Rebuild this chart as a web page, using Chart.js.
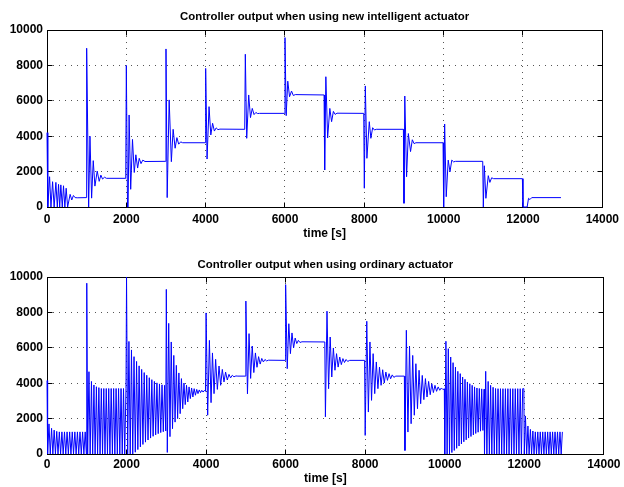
<!DOCTYPE html>
<html>
<head>
<meta charset="utf-8">
<script src="https://cdn.jsdelivr.net/npm/chart.js@4.4.0/dist/chart.umd.min.js"></script>
<style>
html,body{margin:0;padding:0;background:#fff;}
#wrap{position:relative;width:624px;height:487px;overflow:hidden;}
.box{position:absolute;left:0;width:624px;}
canvas{display:block;}
</style>
</head>
<body>
<div id="wrap">
  <div class="box" style="top:0;height:243px"><canvas id="c1" width="624" height="243"></canvas></div>
  <div class="box" style="top:243px;height:244px"><canvas id="c2" width="624" height="244"></canvas></div>
</div>
<script>
// ---------- tick labels ----------
const xTicks = [0, 2000, 4000, 6000, 8000, 10000, 12000, 14000];
const xTickLabels = ['0', '2000', '4000', '6000', '8000', '10000', '12000', '14000'];
const yTicks = [0, 2000, 4000, 6000, 8000, 10000];
const yTickLabels = ['0', '2000', '4000', '6000', '8000', '10000'];
const xLabel = 'time [s]';
const titleTop = 'Controller output when using new intelligent actuator';
const titleBottom = 'Controller output when using ordinary actuator';

// ---------- series: new intelligent actuator ----------
const topTime = [
  0, 20, 65, 100, 141, 180, 224, 260, 291, 320, 349, 385, 416, 450, 483, 520, 583, 624, 666, 708, 760, 985,
  1000, 1050, 1083, 1125, 1166, 1208, 1266, 1316, 1358, 1400, 1450, 1500, 1985,
  2000, 2030, 2045, 2070, 2110, 2155, 2200, 2240, 2285, 2325, 2370, 2415, 2470, 2985,
  3000, 3030, 3080, 3135, 3180, 3230, 3275, 3320, 3370, 3420, 3985,
  4000, 4035, 4085, 4130, 4175, 4220, 4265, 4310, 4360, 4985,
  5000, 5035, 5085, 5130, 5175, 5220, 5265, 5310, 5360, 5985,
  6000, 6030, 6070, 6115, 6165, 6210, 6260, 6985,
  7000, 7030, 7075, 7130, 7175, 7220, 7265, 7310, 7985,
  8000, 8025, 8065, 8125, 8165, 8210, 8255, 8300, 8985,
  9000, 9020, 9065, 9110, 9165, 9210, 9255, 9300, 9985,
  10000, 10025, 10065, 10115, 10160, 10205, 10250, 10300, 10985,
  11000, 11025, 11065, 11125, 11165, 11210, 11260, 11985,
  12000, 12105, 12140, 12175, 12220, 12958
];
const topValue = [
  4200, 0, 1710, 0, 1430, 0, 1390, 0, 1280, 0, 1250, 0, 1200, 0, 1060, 0, 715, 395, 650, 530, 520, 530,
  8970, 0, 4000, 500, 2620, 1180, 2030, 1450, 1800, 1580, 1680, 1620, 1620,
  8000, 0, 0, 5200, 1000, 3820, 1950, 2950, 2200, 2750, 2450, 2650, 2570, 2580,
  8930, 530, 6050, 2560, 4390, 3320, 3920, 3550, 3680, 3630, 3630,
  7830, 2710, 5670, 4070, 4730, 4290, 4470, 4370, 4400, 4390,
  8630, 3880, 6330, 5050, 5570, 5220, 5340, 5280, 5290, 5290,
  9570, 5160, 7110, 6230, 6550, 6300, 6350, 6330,
  2090, 7360, 3900, 5570, 4820, 5400, 5230, 5300, 5290,
  1060, 6840, 2750, 4820, 3880, 4480, 4350, 4390, 4390,
  210, 6270, 1710, 4150, 3130, 3800, 3580, 3630, 3630,
  0, 4690, 580, 2650, 1990, 2650, 2550, 2580, 2580,
  0, 2330, 490, 1770, 1390, 1650, 1600, 1600,
  0, 0, 490, 420, 530, 530
];

// ---------- series: ordinary actuator ----------
const bottomTime = [
  0, 15, 50, 82, 115, 147, 180, 212, 245, 277, 310, 342, 375, 407, 440, 472, 505, 537, 570, 602, 635, 667, 700, 732, 765, 797, 830, 862, 895, 927, 960, 990,
  1000, 1022, 1055, 1085, 1118, 1148, 1180, 1210, 1242, 1272, 1304, 1334, 1366, 1396, 1428, 1458, 1490, 1520, 1552, 1582, 1614, 1644, 1676, 1706, 1738, 1768, 1800, 1830, 1862, 1892, 1924, 1954, 1986,
  2000, 2028, 2060, 2092, 2124, 2156, 2188, 2220, 2252, 2284, 2316, 2348, 2380, 2412, 2444, 2476, 2508, 2540, 2572, 2604, 2636, 2668, 2700, 2732, 2764, 2796, 2828, 2860, 2892, 2924, 2956, 2985,
  3000, 3025, 3060, 3092, 3124, 3156, 3188, 3220, 3252, 3284, 3316, 3348, 3380, 3412, 3444, 3476, 3508, 3540, 3572, 3604, 3636, 3668, 3700, 3732, 3764, 3796, 3828, 3860, 3892, 3924, 3956, 3985,
  4000, 4040, 4083, 4125, 4160, 4200, 4240, 4283, 4325, 4366, 4408, 4450, 4490, 4533, 4575, 4616, 4660, 4700, 4750, 4800, 4985,
  5000, 5040, 5080, 5120, 5160, 5200, 5240, 5280, 5320, 5360, 5400, 5440, 5480, 5520, 5570, 5985,
  6000, 6040, 6080, 6120, 6160, 6200, 6240, 6280, 6320, 6360, 6410, 6985,
  7000, 7040, 7080, 7120, 7160, 7200, 7240, 7280, 7320, 7360, 7400, 7440, 7480, 7520, 7560, 7610, 7985,
  8000, 8040, 8080, 8120, 8160, 8200, 8240, 8280, 8320, 8360, 8400, 8440, 8480, 8520, 8560, 8600, 8640, 8680, 8720, 8770, 8985,
  9000, 9035, 9075, 9115, 9155, 9195, 9235, 9275, 9315, 9355, 9395, 9435, 9475, 9515, 9555, 9595, 9635, 9675, 9715, 9755, 9795, 9835, 9875, 9915, 9955, 9990,
  10000, 10030, 10060, 10090, 10120, 10150, 10180, 10210, 10240, 10270, 10300, 10330, 10360, 10390, 10420, 10450, 10480, 10510, 10540, 10570, 10600, 10630, 10660, 10690, 10720, 10750, 10780, 10810, 10840, 10870, 10900, 10930, 10960, 10990,
  11000, 11030, 11060, 11092, 11122, 11154, 11184, 11216, 11246, 11278, 11308, 11340, 11370, 11402, 11432, 11464, 11494, 11526, 11556, 11588, 11618, 11650, 11680, 11712, 11742, 11774, 11804, 11836, 11866, 11898, 11928, 11960, 11990,
  12000, 12030, 12060, 12092, 12122, 12154, 12184, 12216, 12246, 12278, 12308, 12340, 12370, 12402, 12432, 12464, 12494, 12526, 12556, 12588, 12618, 12650, 12680, 12712, 12742, 12774, 12804, 12836, 12866, 12898, 12928, 12958
];
const bottomValue = [
  4150, 0, 1700, 0, 1450, 0, 1350, 0, 1280, 0, 1250, 0, 1250, 0, 1250, 0, 1250, 0, 1250, 0, 1250, 0, 1250, 0, 1250, 0, 1250, 0, 1250, 0, 1250, 0,
  9650, 0, 4650, 0, 4100, 0, 3900, 0, 3800, 0, 3750, 0, 3700, 0, 3700, 0, 3700, 0, 3700, 0, 3700, 0, 3700, 0, 3700, 0, 3700, 0, 3700, 0, 3700, 0, 3700,
  10000, 0, 6360, 0, 5880, 0, 5500, 100, 5230, 250, 4980, 400, 4780, 540, 4600, 670, 4450, 790, 4310, 900, 4200, 1000, 4100, 1080, 4020, 1150, 3960, 1210, 3910, 1260, 3880, 1300,
  9300, 90, 7380, 980, 6330, 1430, 5570, 1800, 5010, 2000, 4580, 2280, 4260, 2560, 4010, 2790, 3880, 2940, 3790, 3130, 3730, 3220, 3690, 3320, 3650, 3410, 3620, 3470, 3600, 3500, 3590, 3540,
  7970, 2190, 6420, 2900, 5710, 3410, 5350, 3650, 4970, 3880, 4780, 4070, 4630, 4180, 4500, 4300, 4450, 4360, 4410, 4400, 4400,
  8640, 3400, 6800, 4270, 6100, 4600, 5710, 4900, 5500, 5080, 5400, 5200, 5340, 5260, 5300, 5290,
  9570, 4820, 7360, 5670, 6840, 5990, 6550, 6240, 6420, 6300, 6340, 6330,
  2100, 8070, 3690, 6610, 4350, 5990, 4730, 5670, 4910, 5480, 5050, 5390, 5170, 5340, 5230, 5290, 5290,
  1050, 7500, 2370, 6330, 3030, 5670, 3410, 5200, 3690, 4910, 3880, 4760, 4010, 4630, 4160, 4540, 4250, 4470, 4330, 4400, 4400,
  200, 6990, 1240, 6100, 1710, 5570, 2190, 5100, 2560, 4730, 2840, 4440, 3070, 4260, 3220, 4100, 3350, 3970, 3470, 3880, 3540, 3790, 3600, 3730, 3640, 3680,
  0, 6370, 0, 5950, 0, 5480, 80, 5160, 200, 4910, 320, 4670, 450, 4540, 570, 4350, 690, 4220, 800, 4070, 900, 3970, 990, 3880, 1080, 3790, 1160, 3730, 1230, 3700, 1290, 3680, 1330, 3660,
  0, 4670, 0, 4100, 0, 3880, 0, 3770, 0, 3700, 0, 3690, 0, 3690, 0, 3690, 0, 3690, 0, 3690, 0, 3690, 0, 3690, 0, 3690, 0, 3690, 0, 3690, 0, 3690, 3690,
  0, 2150, 0, 1580, 0, 1390, 0, 1300, 0, 1250, 0, 1250, 0, 1250, 0, 1250, 0, 1250, 0, 1250, 0, 1250, 0, 1250, 0, 1250, 0, 1250, 0, 1250, 0, 1250
];

// ---------- drawing ----------
const FONT = '"Liberation Sans", Arial, Helvetica, sans-serif';

function alignPx(p) { return Math.round(p - 0.5) + 0.5; }

const framePlugin = {
  id: 'matlabFrame',
  beforeDatasetsDraw(chart) {
    const { ctx, chartArea: a, scales } = chart;
    const L = alignPx(a.left), R = alignPx(a.right), T = alignPx(a.top), B = alignPx(a.bottom);
    ctx.save();
    ctx.strokeStyle = '#000';
    ctx.lineWidth = 1;
    ctx.setLineDash([]);
    ctx.strokeRect(L, T, R - L, B - T);
    const len = 5;
    ctx.beginPath();
    xTicks.forEach(v => {
      const px = alignPx(scales.x.getPixelForValue(v));
      ctx.moveTo(px, B); ctx.lineTo(px, B - len);
      ctx.moveTo(px, T); ctx.lineTo(px, T + len);
    });
    yTicks.forEach(v => {
      const py = alignPx(scales.y.getPixelForValue(v));
      ctx.moveTo(L, py); ctx.lineTo(L + len, py);
      ctx.moveTo(R, py); ctx.lineTo(R - len, py);
    });
    ctx.stroke();
    ctx.restore();
  }
};

function makeChart(id, titleText, xs, ys, geo) {
  const pts = xs.map((x, i) => ({ x: x, y: ys[i] }));
  return new Chart(document.getElementById(id), {
    type: 'scatter',
    data: {
      datasets: [{
        data: pts,
        showLine: true,
        borderColor: '#0000ff',
        borderWidth: 1,
        pointRadius: 0,
        pointHoverRadius: 0,
        tension: 0,
        clip: 4
      }]
    },
    options: {
      responsive: false,
      animation: false,
      events: [],
      layout: { padding: { left: 0, right: 19, top: 0, bottom: 0 } },
      plugins: {
        legend: { display: false },
        tooltip: { enabled: false },
        title: {
          display: true,
          text: titleText,
          fullSize: false,
          color: '#000',
          font: { family: FONT, size: 11.4, weight: 'bold', lineHeight: 1.2 },
          padding: { top: geo.tTop, bottom: geo.tBottom }
        }
      },
      scales: {
        x: {
          type: 'linear',
          min: 0, max: 14000,
          afterBuildTicks: s => { s.ticks = xTicks.map(v => ({ value: v })); },
          afterFit: s => { s.height = geo.xh; },
          ticks: {
            autoSkip: false, maxRotation: 0,
            color: '#000', padding: geo.xPad,
            font: { family: FONT, size: 12, weight: 'bold' },
            callback: (v) => xTickLabels[xTicks.indexOf(v)]
          },
          grid: { color: '#555', lineWidth: 1, drawTicks: false },
          border: { display: false, dash: [1, 5] },
          title: {
            display: true, text: xLabel, color: '#000',
            font: { family: FONT, size: 12, weight: 'bold', lineHeight: 1.2 },
            padding: { top: 0, bottom: geo.xtPad }
          }
        },
        y: {
          type: 'linear',
          min: 0, max: 10000,
          afterBuildTicks: s => { s.ticks = yTicks.map(v => ({ value: v })); },
          afterFit: s => { s.width = 47; },
          ticks: {
            autoSkip: false,
            color: '#000', padding: 4,
            font: { family: FONT, size: 12, weight: 'bold' },
            callback: (v) => yTickLabels[yTicks.indexOf(v)]
          },
          grid: { color: '#555', lineWidth: 1, drawTicks: false },
          border: { display: false, dash: [1, 5] }
        }
      }
    },
    plugins: [framePlugin]
  });
}

makeChart('c1', titleTop, topTime, topValue, { tTop: 10.5, tBottom: 5.82, xh: 36, xPad: 5, xtPad: 2.6 });
makeChart('c2', titleBottom, bottomTime, bottomValue, { tTop: 15.1, tBottom: 5.22, xh: 33, xPad: 3.5, xtPad: 1.2 });
</script>
</body>
</html>
